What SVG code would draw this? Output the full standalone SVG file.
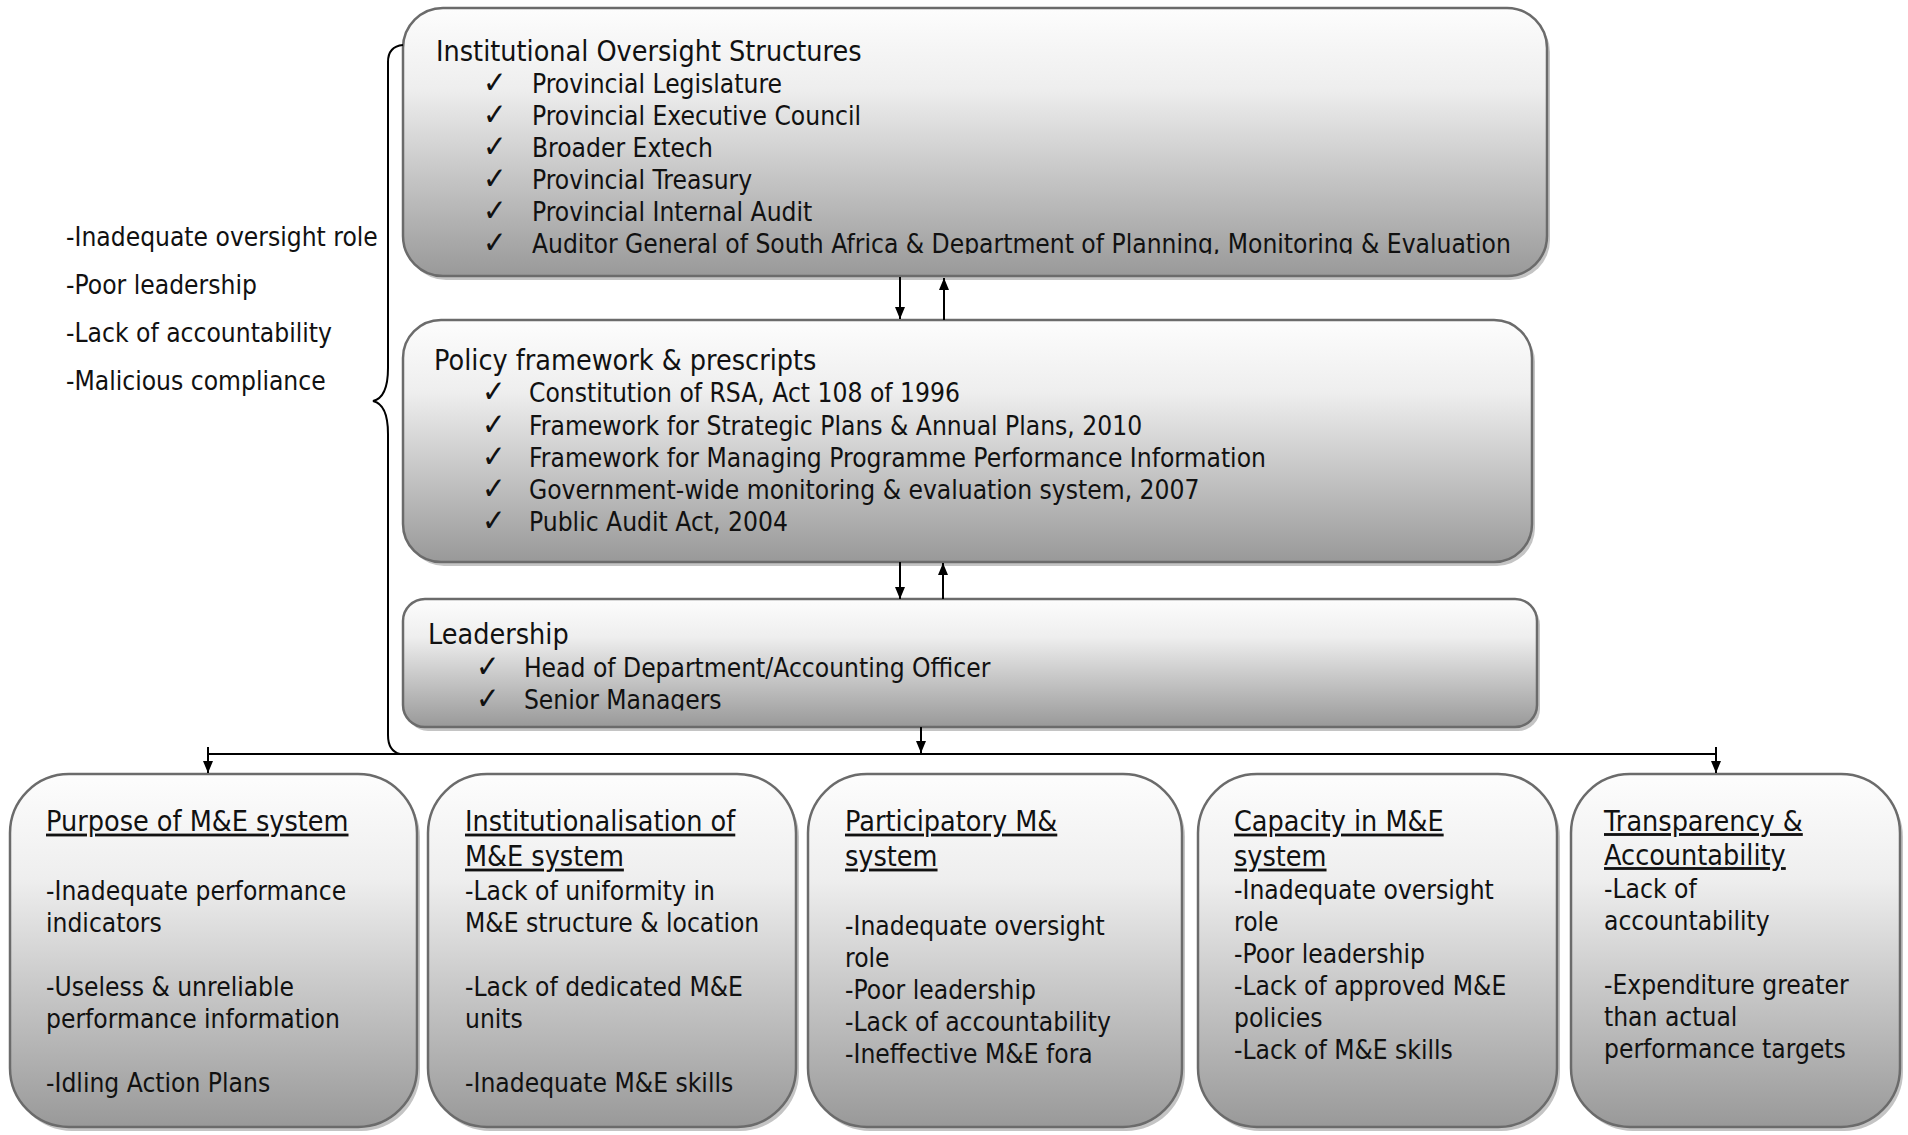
<svg xmlns="http://www.w3.org/2000/svg" width="1908" height="1135" viewBox="0 0 1908 1135">
<defs>
<linearGradient id="g" x1="0" y1="0" x2="0" y2="1">
<stop offset="0" stop-color="#fdfdfd"/>
<stop offset="0.3" stop-color="#eeeeee"/>
<stop offset="0.6" stop-color="#c9c9c9"/>
<stop offset="1" stop-color="#999999"/>
</linearGradient>
<marker id="ah" markerUnits="userSpaceOnUse" markerWidth="12" markerHeight="12" viewBox="0 0 12 12" refX="12" refY="6" orient="auto">
<path d="M0,1 L12,6 L0,11 z" fill="#000"/>
</marker>
<clipPath id="c1"><rect x="-1000" y="0" width="5000" height="254"/></clipPath>
<clipPath id="c3"><rect x="-1000" y="600" width="5000" height="110.5"/></clipPath>
</defs>
<style>
.box{fill:url(#g);stroke:#6b6b6b;stroke-width:2.5}
.sh{fill:#c4c4c4}
.t{font-family:"DejaVu Sans",Verdana,sans-serif;font-size:26px;fill:#111}
.h{font-size:28.3px}
.ck{font-size:31px}
.u{text-decoration:underline}
.conn{stroke:#000;stroke-width:2;fill:none}
</style>

<g id="left-notes">
<g transform="translate(66,0) scale(0.905,1)">
<text class="t" x="0" y="246">-Inadequate oversight role</text>
<text class="t" x="0" y="294.5">-Poor leadership</text>
<text class="t" x="0" y="342.5">-Lack of accountability</text>
<text class="t" x="0" y="390.5">-Malicious compliance</text>
</g>
</g>

<g id="oversight">
<rect class="sh" x="406" y="12" width="1144" height="268" rx="40"/>
<rect class="box" x="403" y="8" width="1144" height="268" rx="40"/>
<g transform="translate(436,0) scale(0.905,1)">
<text class="t h" x="0" y="61">Institutional Oversight Structures</text>
<text class="t ck" x="52" y="93">✓</text><text class="t" x="106" y="93">Provincial Legislature</text>
<text class="t ck" x="52" y="125">✓</text><text class="t" x="106" y="125">Provincial Executive Council</text>
<text class="t ck" x="52" y="157">✓</text><text class="t" x="106" y="157">Broader Extech</text>
<text class="t ck" x="52" y="189">✓</text><text class="t" x="106" y="189">Provincial Treasury</text>
<text class="t ck" x="52" y="221">✓</text><text class="t" x="106" y="221">Provincial Internal Audit</text>
<g clip-path="url(#c1)">
<text class="t ck" x="52" y="253">✓</text><text class="t" x="106" y="253">Auditor General of South Africa &amp; Department of Planning, Monitoring &amp; Evaluation</text>
</g>
</g>
</g>

<g id="policy">
<rect class="sh" x="406" y="324" width="1129" height="242" rx="38"/>
<rect class="box" x="403" y="320" width="1129" height="242" rx="38"/>
<g transform="translate(434,0) scale(0.905,1)">
<text class="t h" x="0" y="370">Policy framework &amp; prescripts</text>
<text class="t ck" x="53" y="402.5">✓</text><text class="t" x="105" y="402.5">Constitution of RSA, Act 108 of 1996</text>
<text class="t ck" x="53" y="435">✓</text><text class="t" x="105" y="435">Framework for Strategic Plans &amp; Annual Plans, 2010</text>
<text class="t ck" x="53" y="467.5">✓</text><text class="t" x="105" y="467.5">Framework for Managing Programme Performance Information</text>
<text class="t ck" x="53" y="499.5">✓</text><text class="t" x="105" y="499.5">Government-wide monitoring &amp; evaluation system, 2007</text>
<text class="t ck" x="53" y="531.5">✓</text><text class="t" x="105" y="531.5">Public Audit Act, 2004</text>
</g>
</g>

<g id="leadership">
<rect class="sh" x="406" y="603" width="1134" height="128" rx="22"/>
<rect class="box" x="403" y="599" width="1134" height="128" rx="22"/>
<g transform="translate(428,0) scale(0.905,1)">
<text class="t h" x="0" y="644">Leadership</text>
<text class="t ck" x="53" y="677">✓</text><text class="t" x="106" y="677">Head of Department/Accounting Officer</text>
<g clip-path="url(#c3)">
<text class="t ck" x="53" y="709">✓</text><text class="t" x="106" y="709">Senior Managers</text>
</g>
</g>
</g>

<g id="purpose">
<rect class="sh" x="13" y="778" width="407" height="353" rx="59"/>
<rect class="box" x="10" y="774" width="407" height="353" rx="59"/>
<g transform="translate(46,0) scale(0.905,1)">
<text class="t h u" x="0" y="831.5">Purpose of M&amp;E system</text>
<text class="t" x="0" y="900.5">-Inadequate performance</text>
<text class="t" x="0" y="932.5">indicators</text>
<text class="t" x="0" y="996.5">-Useless &amp; unreliable</text>
<text class="t" x="0" y="1028.5">performance information</text>
<text class="t" x="0" y="1092.5">-Idling Action Plans</text>
</g>
</g>

<g id="institutionalisation">
<rect class="sh" x="431" y="778" width="368" height="353" rx="59"/>
<rect class="box" x="428" y="774" width="368" height="353" rx="59"/>
<g transform="translate(465,0) scale(0.905,1)">
<text class="t h u" x="0" y="831.5">Institutionalisation of</text>
<text class="t h u" x="0" y="866.5">M&amp;E system</text>
<text class="t" x="0" y="900.5">-Lack of uniformity in</text>
<text class="t" x="0" y="932.5">M&amp;E structure &amp; location</text>
<text class="t" x="0" y="996.5">-Lack of dedicated M&amp;E</text>
<text class="t" x="0" y="1028.5">units</text>
<text class="t" x="0" y="1092.5">-Inadequate M&amp;E skills</text>
</g>
</g>

<g id="participatory">
<rect class="sh" x="811" y="778" width="374" height="353" rx="59"/>
<rect class="box" x="808" y="774" width="374" height="353" rx="59"/>
<g transform="translate(845,0) scale(0.905,1)">
<text class="t h u" x="0" y="831.5">Participatory M&amp;</text>
<text class="t h u" x="0" y="866.5">system</text>
<text class="t" x="0" y="935.5">-Inadequate oversight</text>
<text class="t" x="0" y="967.5">role</text>
<text class="t" x="0" y="999.5">-Poor leadership</text>
<text class="t" x="0" y="1031.5">-Lack of accountability</text>
<text class="t" x="0" y="1063.5">-Ineffective M&amp;E fora</text>
</g>
</g>

<g id="capacity">
<rect class="sh" x="1201" y="778" width="359" height="353" rx="59"/>
<rect class="box" x="1198" y="774" width="359" height="353" rx="59"/>
<g transform="translate(1234,0) scale(0.905,1)">
<text class="t h u" x="0" y="831.5">Capacity in M&amp;E</text>
<text class="t h u" x="0" y="866.5">system</text>
<text class="t" x="0" y="899.5">-Inadequate oversight</text>
<text class="t" x="0" y="931.5">role</text>
<text class="t" x="0" y="963.5">-Poor leadership</text>
<text class="t" x="0" y="995.5">-Lack of approved M&amp;E</text>
<text class="t" x="0" y="1027.5">policies</text>
<text class="t" x="0" y="1059.5">-Lack of M&amp;E skills</text>
</g>
</g>

<g id="transparency">
<rect class="sh" x="1574" y="778" width="329" height="353" rx="59"/>
<rect class="box" x="1571" y="774" width="329" height="353" rx="59"/>
<g transform="translate(1604,0) scale(0.905,1)">
<text class="t h u" x="0" y="831">Transparency &amp;</text>
<text class="t h u" x="0" y="865">Accountability</text>
<text class="t" x="0" y="898">-Lack of</text>
<text class="t" x="0" y="930">accountability</text>
<text class="t" x="0" y="994">-Expenditure greater</text>
<text class="t" x="0" y="1026">than actual</text>
<text class="t" x="0" y="1058">performance targets</text>
</g>
</g>

<g id="connectors">
<path class="conn" d="M900,277 L900,319" marker-end="url(#ah)"/>
<path class="conn" d="M944,320 L944,278" marker-end="url(#ah)"/>
<path class="conn" d="M900,562 L900,599" marker-end="url(#ah)"/>
<path class="conn" d="M943,599 L943,563" marker-end="url(#ah)"/>
<path class="conn" d="M921,727 L921,753" marker-end="url(#ah)"/>
<path class="conn" d="M208,754 L1716,754"/>
<path class="conn" d="M208,747 L208,773" marker-end="url(#ah)"/>
<path class="conn" d="M1716,747 L1716,773" marker-end="url(#ah)"/>
<path class="conn" d="M403,45 C392,46 388,52 388,62 L388,368 C388,390 382,399 373,401 C382,403 388,412 388,434 L388,735 C388,746 392,752 400,754"/>
</g>
</svg>
